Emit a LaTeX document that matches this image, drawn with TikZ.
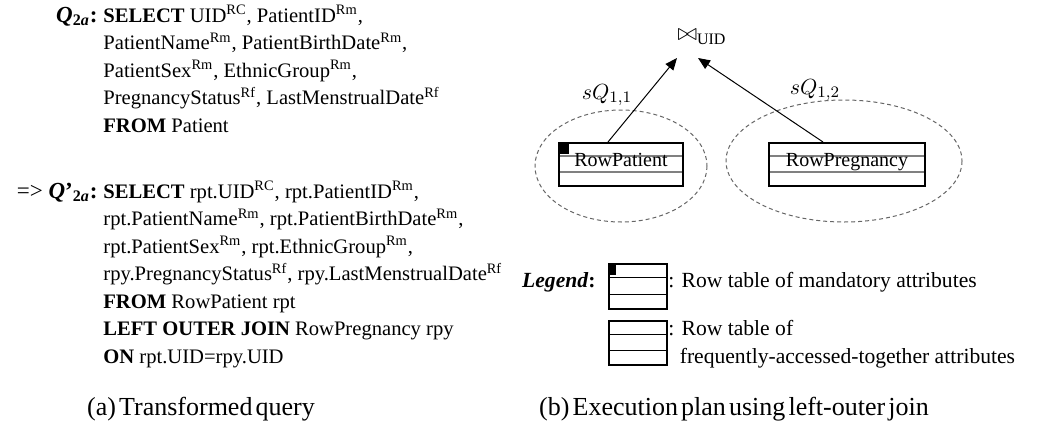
\documentclass[tikz,border=0pt]{standalone}
\usepackage{fontspec}
\setmainfont{Liberation Serif}
\usetikzlibrary{arrows.meta,calc}

\newcommand{\supRC}{\textsuperscript{RC}}
\newcommand{\supRm}{\textsuperscript{Rm}}
\newcommand{\supRf}{\textsuperscript{Rf}}
\newcommand{\capfont}{\fontsize{13}{15}\selectfont\spaceskip 0.12em\relax}

\begin{document}
\begin{tikzpicture}[x=0.5pt,y=-0.5pt,
    txt/.style={font=\fontsize{10.3}{13.75}\selectfont, inner sep=0pt},
    lab/.style={font=\fontsize{11.5}{13.75}\selectfont, inner sep=0pt, anchor=base east},
    lgtxt/.style={font=\fontsize{10.8}{14}\selectfont, inner sep=0pt},
    captxt/.style={font=\capfont, inner sep=0pt, anchor=base},
    rowtab/.style={draw, line width=1pt, inner sep=0pt,
        font=\fontsize{10}{12}\selectfont, text height=8pt, text depth=5.8pt,
        path picture={
            \path (path picture bounding box.north west) coordinate (nw)
                  (path picture bounding box.south east) coordinate (se);
            \draw[#1] ($(nw)!0.3!(nw|-se)$) -- ($(nw-|se)!0.3!(se)$)
                      ($(nw)!0.67!(nw|-se)$) -- ($(nw-|se)!0.67!(se)$);
        }},
    rowtab/.default={black!50,line width=0.8pt},
    grp/.style={draw=black!60, line width=0.5pt, dash pattern=on 2pt off 1.5pt},
    arr/.style={-{Triangle[length=6pt,width=5pt]}, line width=0.5pt},
]
    \useasboundingbox (0,0) rectangle (1037,428);

    \node[lab] (q1lab) at (98,22) {\textbf{\textit{Q}\textsubscript{2\textit{a}}:}};
    \node[txt, anchor=base west, align=left] (q1) at (103,132) {\textbf{SELECT} UID\supRC, PatientID\supRm,\\
        PatientName\supRm, PatientBirthDate\supRm,\\
        PatientSex\supRm, EthnicGroup\supRm,\\
        PregnancyStatus\supRf, LastMenstrualDate\supRf\\
        \textbf{FROM} Patient};

    \node[lab] (q2lab) at (98,198) {=> \textbf{\textit{Q}’\textsubscript{2\textit{a}}:}};
    \node[txt, anchor=base west, align=left] (q2) at (103,363) {\textbf{SELECT} rpt.UID\supRC, rpt.PatientID\supRm,\\
        rpt.PatientName\supRm, rpt.PatientBirthDate\supRm,\\
        rpt.PatientSex\supRm, rpt.EthnicGroup\supRm,\\
        rpy.PregnancyStatus\supRf, rpy.LastMenstrualDate\supRf\\
        \textbf{FROM} RowPatient rpt\\
        \textbf{LEFT OUTER JOIN} RowPregnancy rpy\\
        \textbf{ON} rpt.UID=rpy.UID};

    \draw[grp] (621,166) ellipse [x radius=86, y radius=56];
    \draw[grp] (844,161) ellipse [x radius=118, y radius=61];

    \node[rowtab, minimum width=62pt, minimum height=21.5pt] (rp) at (621,164.5) {RowPatient};
    \fill (rp.north west) rectangle ++(11,12);
    \node[rowtab, minimum width=78pt, minimum height=21.5pt] (ry) at (847,164.5) {RowPregnancy};

    \node[inner sep=0pt, font=\fontsize{12}{14}\selectfont] (join) at (702,37) {$\bowtie$\textsubscript{UID}};
    \draw[arr] ($(rp.north)+(-13,0)$) -- ($(join.center)+(-25,21)$);
    \draw[arr] ($(ry.north)+(-24,0)$) -- ($(join.center)+(-4,21)$);
    \node[inner sep=0pt, font=\fontsize{11}{13}\selectfont] (s11) at (607,95) {$sQ_{1,1}$};
    \node[inner sep=0pt, font=\fontsize{11}{13}\selectfont] (s12) at (815,90) {$sQ_{1,2}$};

    \node[rowtab={black,line width=0.6pt}, minimum width=29pt, minimum height=22.5pt] (lg1) at (638,286.5) {};
    \fill (lg1.north west) rectangle ++(8,12);
    \node[rowtab={black,line width=0.6pt}, minimum width=29pt, minimum height=22pt] (lg2) at (638,343) {};
    \node[lgtxt, anchor=base east] (lgt) at ($(lg1.north west)+(-12,24)$) {\textbf{\textit{Legend}:}};
    \node[lgtxt, anchor=base west] (lgm) at ($(lg1.north east)+(0,24)$) {: Row table of mandatory attributes};
    \node[lgtxt, anchor=base west, align=left] (lgf) at ($(lg2.north east)+(0,43)$) {: Row table of\\
        \hphantom{:\ }frequently-accessed-together attributes};

    \node[captxt] (capa) at (201,415) {(a) Transformed query};
    \node[captxt] (capb) at (734,415) {(b) Execution plan using left-outer join};
\end{tikzpicture}
\end{document}
